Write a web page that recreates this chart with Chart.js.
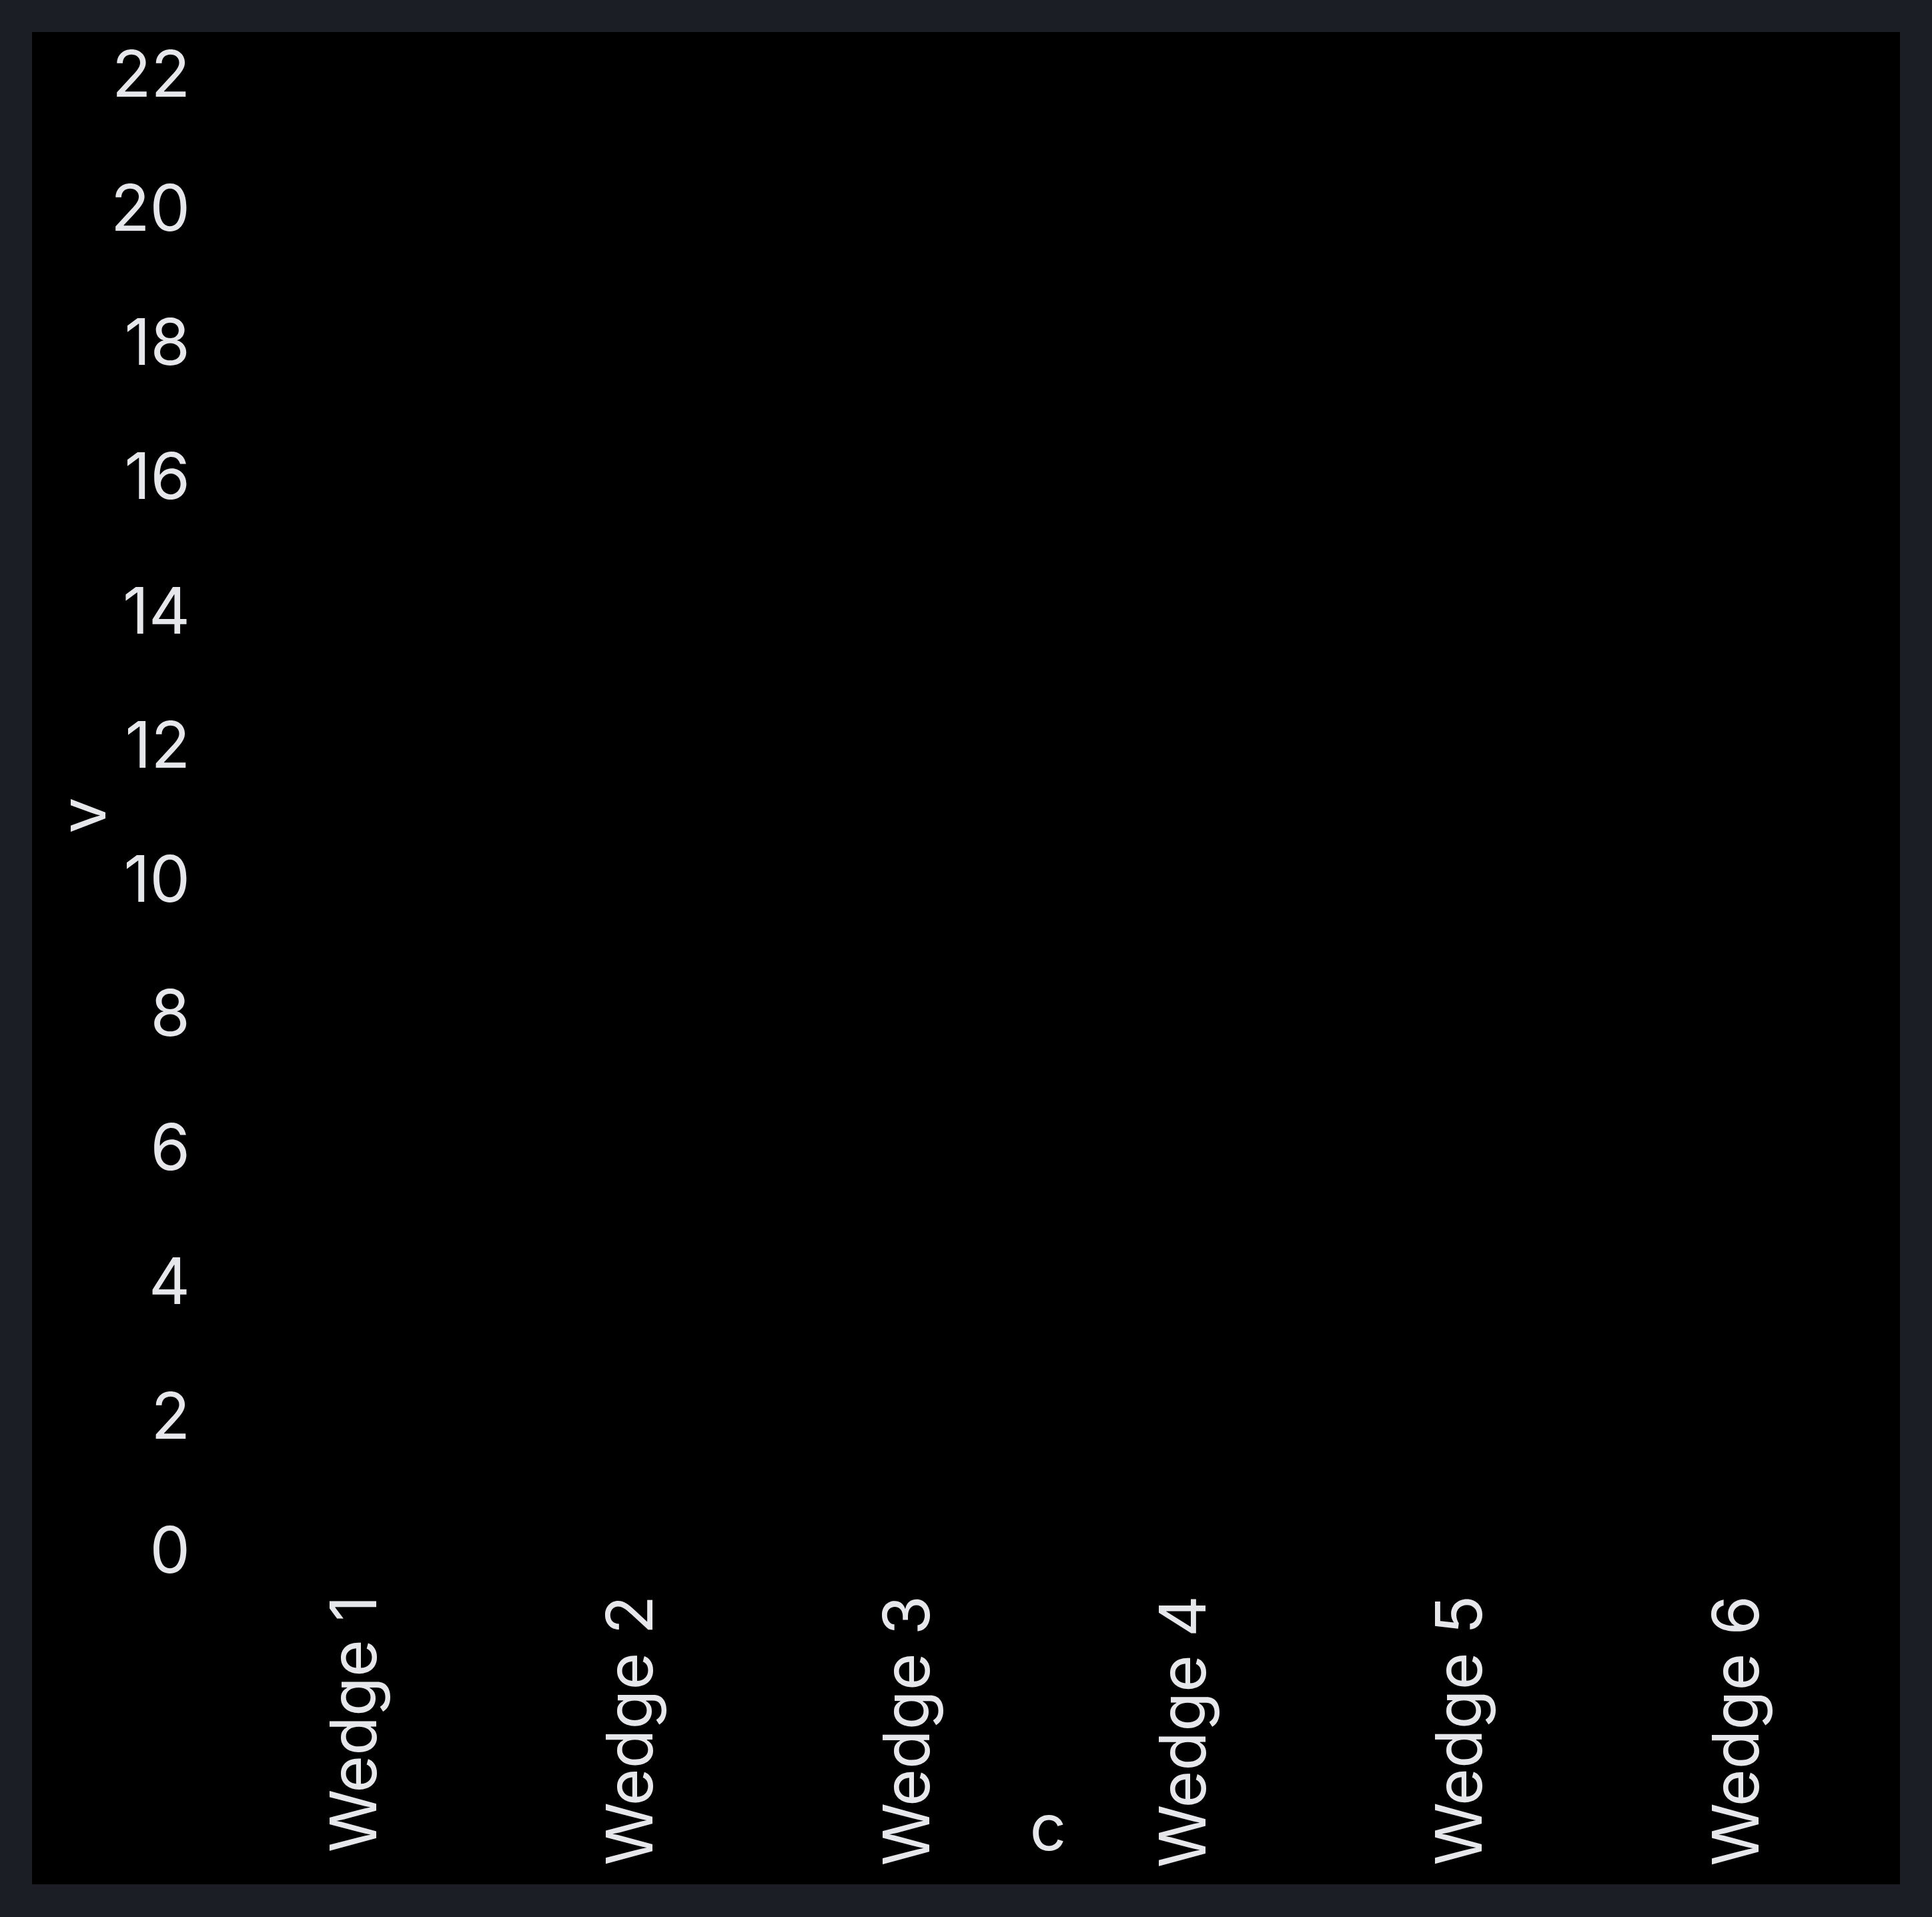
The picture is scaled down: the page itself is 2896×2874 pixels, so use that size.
<!DOCTYPE html>
<html>
<head>
<meta charset="utf-8">
<script src="https://cdn.jsdelivr.net/npm/chart.js@4"></script>
<style>
  html, body { margin: 0; padding: 0; background: #1b1e25; }
  #wrap { position: absolute; left: 48px; top: 48px; width: 2800px; height: 2777px; background: #000; }
</style>
</head>
<body>
<div id="wrap"><canvas id="myChart"></canvas></div>
<script>
// categories and values (no bars are visible in the reference)
const categories = ['Wedge 1', 'Wedge 2', 'Wedge 3', 'Wedge 4', 'Wedge 5', 'Wedge 6'];
const values = [null, null, null, null, null, null];
const yTicks = [0, 2, 4, 6, 8, 10, 12, 14, 16, 18, 20, 22];

const textColor = '#e6e7eb';
const bigFont = { family: 'Inter', size: 96 };

const ctx = document.getElementById('myChart').getContext('2d');
const myChart = new Chart(ctx, {
    type: 'bar',
    data: {
        labels: categories,
        datasets: [{
            label: 'v',
            data: values,
            backgroundColor: '#000000'
        }]
    },
    options: {
        responsive: true,
        maintainAspectRatio: false,
        animation: false,
        devicePixelRatio: 1,
        plugins: {
            legend: { display: false },
            tooltip: { enabled: false }
        },
        layout: {
            padding: { top: 0, right: 34, bottom: 0, left: 0 }
        },
        scales: {
            x: {
                grid: { display: false, drawTicks: false },
                border: { display: false },
                ticks: {
                    color: textColor,
                    font: bigFont,
                    maxRotation: 90,
                    minRotation: 90,
                    padding: 63
                },
                title: {
                    display: true,
                    text: 'c',
                    color: textColor,
                    font: bigFont,
                    padding: { top: 0, bottom: 22 }
                },
                afterFit: (scale) => { scale.height = 496; }
            },
            y: {
                min: yTicks[0],
                max: yTicks[yTicks.length - 1],
                grid: { display: false, drawTicks: false },
                border: { display: false },
                ticks: {
                    color: textColor,
                    font: bigFont,
                    stepSize: yTicks[1] - yTicks[0],
                    padding: 43
                },
                title: {
                    display: true,
                    text: 'v',
                    color: textColor,
                    font: bigFont,
                    padding: { top: 24, bottom: 0 }
                },
                afterFit: (scale) => {
                    scale.width = 280;
                    scale.paddingTop = 68; // room above the top tick label
                }
            }
        }
    }
});
</script>
</body>
</html>
